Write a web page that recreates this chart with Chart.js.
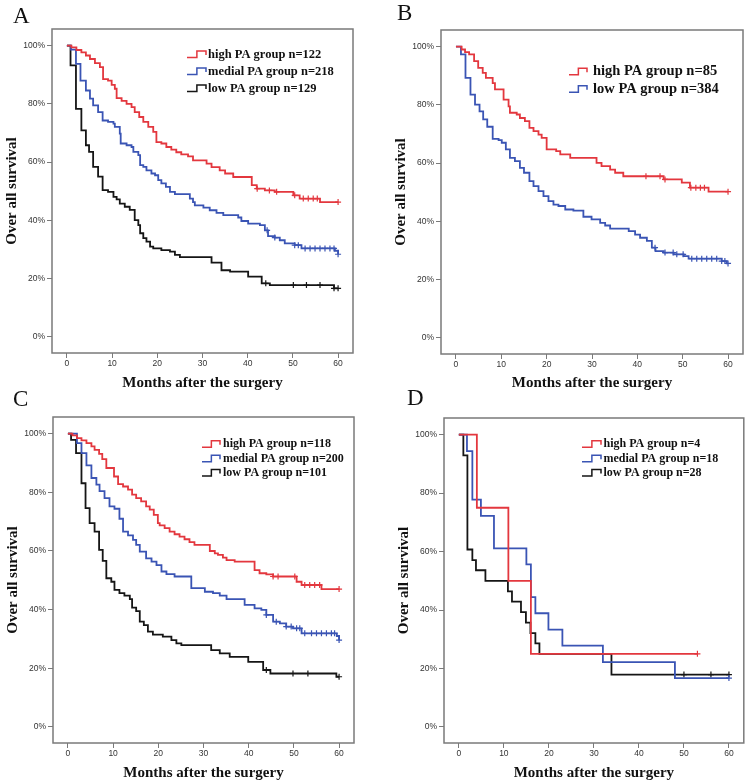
<!DOCTYPE html>
<html>
<head>
<meta charset="utf-8">
<script src="https://cdn.jsdelivr.net/npm/chart.js@4.4.0/dist/chart.umd.min.js"></script>
<style>
  body { margin: 0; background: #fff; overflow: hidden; }
  #page { position: relative; width: 749px; height: 784px; background: #fff; overflow: hidden; }
  canvas { position: absolute; }
  .tag { position: absolute; font-family: "Liberation Serif", "Times New Roman", serif; font-size: 23px; line-height: 23px; color: #111; }
</style>
</head>
<body>
<div id="page">
  <canvas id="chartA" width="375" height="392" style="left:0;top:0"></canvas>
  <canvas id="chartB" width="374" height="392" style="left:375px;top:0"></canvas>
  <canvas id="chartC" width="375" height="392" style="left:0;top:392px"></canvas>
  <canvas id="chartD" width="374" height="392" style="left:375px;top:392px"></canvas>
  <div class="tag" style="left:13px;top:4px">A</div>
  <div class="tag" style="left:397px;top:1px">B</div>
  <div class="tag" style="left:13px;top:387px">C</div>
  <div class="tag" style="left:407px;top:386px">D</div>
</div>
<script>
// axis ticks
const xTicks = [0, 10, 20, 30, 40, 50, 60];
const yTicks = [0, 20, 40, 60, 80, 100];

// A
const aLabels = ['high PA group n=122', 'medial PA group n=218', 'low PA group n=129'];
const aHighT = [0, 1.0, 2.1, 3.2, 4.2, 5.1, 6.2, 7.3, 8.0, 9.1, 9.9, 10.6, 11.0, 12.1, 13.2, 14.3, 15.0, 16.0, 16.9, 18.0, 19.1, 19.8, 20.9, 22.0, 23.1, 24.2, 25.3, 26.8, 27.9, 30.9, 32.0, 33.8, 35.0, 36.8, 40.9, 42.0, 43.8, 46.0, 50.1, 51.5, 56.0, 60];
const aHighS = [100, 99.4, 98.5, 97.7, 96.6, 95.4, 94.0, 92.6, 88.5, 88.0, 86.5, 85.2, 82.0, 81.0, 80.0, 78.9, 77.2, 75.5, 73.8, 72.1, 70.4, 66.9, 66.4, 65.2, 64.3, 63.4, 62.7, 62.0, 60.6, 59.5, 58.3, 57.2, 56.1, 54.9, 52.1, 50.9, 50.3, 49.8, 48.6, 47.5, 46.3, 46.3];
const aHighC = [42.1, 44.8, 46.4, 50.4, 52.3, 53.4, 54.5, 55.4, 60];
const aMedT = [0, 0.9, 2.0, 3.0, 4.2, 5.1, 5.8, 6.9, 7.9, 9.1, 10.3, 10.6, 11.7, 11.9, 13.2, 14.3, 14.7, 15.8, 16.2, 16.9, 17.6, 18.7, 19.5, 20.2, 20.9, 21.9, 22.8, 23.9, 27.2, 27.9, 28.3, 30.2, 31.6, 33.1, 34.6, 37.9, 38.6, 40.1, 42.7, 43.8, 44.5, 46.0, 47.1, 48.2, 50.4, 51.9, 59.3, 60];
const aMedS = [100, 98.6, 93.7, 88.0, 84.6, 81.8, 79.5, 77.2, 74.3, 73.8, 73.2, 72.1, 69.8, 66.4, 65.8, 65.2, 63.5, 62.4, 59.0, 58.4, 57.2, 56.1, 55.5, 53.8, 52.7, 51.5, 49.8, 49.0, 47.5, 46.3, 45.2, 44.4, 43.5, 42.6, 41.8, 41.0, 39.8, 38.9, 38.4, 36.6, 34.6, 34.1, 33.2, 32.1, 31.5, 30.4, 29.6, 28.4];
const aMedC = [44.3, 46.0, 50.4, 51.2, 52.7, 53.8, 54.9, 56.0, 57.1, 58.2, 59.1, 60];
const aLowT = [0, 0.8, 2.0, 3.2, 4.2, 4.9, 5.8, 6.9, 7.9, 9.1, 10.3, 11.0, 11.7, 12.8, 13.9, 15.0, 15.8, 16.2, 16.9, 17.6, 18.4, 19.1, 20.9, 22.8, 23.9, 25.0, 32.0, 34.2, 36.1, 40.1, 43.1, 44.9, 59.1, 60];
const aLowS = [100, 93.2, 78.3, 70.9, 65.8, 63.5, 58.4, 55.0, 50.4, 49.8, 48.1, 47.2, 45.8, 44.7, 43.6, 40.1, 38.4, 35.6, 33.9, 32.7, 31.0, 30.4, 29.8, 29.3, 28.2, 27.4, 25.5, 22.9, 22.4, 20.7, 18.4, 17.8, 16.7, 16.7];
const aLowC = [44.0, 50.1, 53.0, 56.0, 59.1, 60];

// B
const bLabels = ['high PA group n=85', 'low PA group n=384'];
const bHighT = [0, 1.25, 2.0, 2.9, 4.0, 4.9, 5.9, 6.6, 8.1, 8.6, 10.5, 11.6, 11.9, 13.4, 14.1, 15.2, 16.2, 17.1, 18.2, 18.9, 20.0, 22.1, 23.0, 25.2, 31.0, 32.1, 34.0, 35.1, 36.9, 45.8, 49.8, 51.6, 55.7, 60];
const bHighS = [100, 99.0, 98.1, 97.3, 95.0, 92.7, 91.0, 89.3, 87.5, 85.3, 81.8, 79.5, 77.3, 76.7, 75.5, 74.4, 72.1, 71.0, 69.8, 68.7, 64.7, 64.1, 63.0, 61.8, 60.1, 59.0, 57.8, 56.7, 55.5, 54.4, 53.3, 51.6, 50.2, 50.2];
const bHighC = [41.9, 45.0, 46.1, 51.8, 52.9, 53.9, 54.8, 60];
const bLowT = [0, 1.1, 2.1, 3.2, 4.2, 5.2, 6.0, 6.9, 8.1, 9.4, 10.1, 11.0, 11.9, 13.0, 14.1, 15.0, 16.2, 17.1, 18.2, 19.3, 20.4, 21.5, 22.6, 24.1, 25.9, 28.1, 29.9, 31.8, 32.9, 34.0, 38.1, 39.5, 40.6, 42.1, 43.2, 44.0, 45.8, 48.0, 50.2, 51.3, 58.6, 59.7, 60];
const bLowS = [100, 97.3, 89.3, 83.5, 80.1, 77.8, 75.0, 72.5, 68.3, 67.9, 67.0, 64.7, 61.8, 60.7, 58.4, 56.7, 53.8, 52.1, 50.4, 48.7, 47.0, 45.8, 45.3, 44.1, 43.7, 41.6, 40.7, 39.5, 38.6, 37.5, 36.7, 35.5, 34.4, 33.3, 31.0, 29.8, 29.3, 28.7, 28.1, 27.2, 26.4, 25.6, 25.6];
const bLowC = [43.9, 46.1, 47.9, 48.7, 50.1, 52.0, 53.1, 54.2, 55.3, 56.4, 57.5, 58.6, 59.3, 60];

// C
const cLabels = ['high PA group n=118', 'medial PA group n=200', 'low PA group n=101'];
const cHighT = [0, 1.0, 2.0, 3.0, 4.1, 5.2, 5.9, 6.9, 7.6, 8.5, 10.2, 11.1, 12.2, 13.3, 14.2, 15.1, 16.2, 17.3, 18.1, 19.0, 19.9, 20.3, 21.4, 22.5, 23.6, 24.7, 25.8, 26.9, 28.0, 31.4, 32.5, 33.2, 34.3, 35.1, 36.9, 41.3, 42.4, 43.9, 45.4, 50.6, 51.7, 56.1, 60];
const cHighS = [100, 99.4, 98.5, 97.7, 96.8, 95.7, 94.5, 93.1, 91.3, 88.3, 85.4, 82.8, 82.0, 80.9, 79.2, 78.0, 76.9, 75.2, 74.1, 72.3, 69.5, 68.7, 67.8, 66.6, 65.7, 64.9, 64.0, 63.0, 62.1, 60.0, 59.2, 58.7, 57.7, 56.9, 56.4, 53.5, 52.4, 52.0, 51.3, 49.5, 48.4, 47.0, 47.0];
const cHighC = [45.4, 46.5, 50.2, 52.4, 53.5, 54.6, 55.7, 60];
const cMedT = [0, 2.0, 3.0, 4.1, 5.2, 6.3, 7.0, 8.1, 9.2, 10.3, 11.4, 12.2, 13.3, 14.4, 15.1, 15.9, 17.3, 18.5, 19.6, 20.7, 21.8, 23.6, 27.3, 30.3, 32.1, 33.6, 35.1, 39.1, 41.3, 42.8, 43.9, 45.4, 46.9, 48.3, 49.8, 51.7, 59.5, 60];
const cMedS = [100, 96.8, 93.4, 89.2, 84.9, 82.6, 80.4, 78.0, 75.2, 74.4, 71.0, 66.6, 65.3, 63.8, 62.1, 59.8, 57.5, 56.4, 55.2, 53.0, 52.1, 51.3, 47.3, 46.1, 45.6, 44.8, 43.6, 41.6, 40.4, 39.9, 38.2, 35.9, 35.3, 34.2, 33.6, 31.9, 31.0, 29.6];
const cMedC = [43.9, 46.1, 48.3, 49.4, 50.6, 51.3, 52.4, 53.9, 55.0, 56.1, 57.2, 58.3, 59.0, 60];
const cLowT = [0, 0.7, 1.8, 3.0, 3.9, 4.8, 5.9, 6.9, 7.7, 8.5, 9.6, 10.3, 11.4, 12.5, 13.7, 14.2, 15.1, 15.9, 16.8, 17.7, 18.8, 21.0, 22.9, 24.0, 25.1, 31.7, 33.6, 35.8, 39.9, 43.2, 44.8, 59.4, 60];
const cLowS = [100, 97.9, 93.4, 83.1, 74.6, 69.5, 66.6, 60.4, 56.6, 50.7, 49.5, 46.7, 45.6, 44.8, 43.6, 40.7, 39.5, 35.9, 34.7, 32.5, 31.5, 30.8, 29.6, 28.5, 27.9, 26.2, 25.1, 23.9, 22.2, 19.4, 18.2, 17.1, 17.1];
const cLowC = [43.9, 49.8, 53.1, 60];

// D
const dLabels = ['high PA group n=4', 'medial PA group n=18', 'low PA group n=28'];
const dHighT = [0, 4, 11, 16, 53];
const dHighS = [100, 75, 50, 25, 25];
const dHighC = [53];
const dMedT = [0, 1.8, 3.0, 4.9, 7.8, 15.0, 16.0, 17.0, 19.9, 23.0, 32.0, 48.0, 60];
const dMedS = [100, 94.4, 77.8, 72.2, 61.1, 55.6, 44.4, 38.9, 33.3, 27.8, 22.2, 16.7, 16.7];
const dMedC = [60];
const dLowT = [0, 1.0, 1.9, 3.0, 3.8, 5.9, 10.9, 11.8, 13.8, 14.9, 15.9, 17.0, 17.9, 33.9, 60];
const dLowS = [100, 92.9, 60.7, 57.1, 53.6, 50.0, 46.4, 42.9, 39.3, 35.7, 32.1, 28.6, 25.0, 17.9, 17.9];
const dLowC = [50, 56, 60];

const RED = '#e3373e';
const BLUE = '#3a54b4';
const BLACK = '#151515';
const GREY = '#7a7a7a';
const SERIF = '"Liberation Serif", "Times New Roman", serif';
const SANS = '"Liberation Sans", Arial, sans-serif';

// survival value of a step curve at time t (used to place the censor marks on the line)
function stepAt(times, surv, t) {
  let v = surv[0];
  for (let i = 0; i < times.length; i++) {
    if (times[i] <= t + 1e-9) v = surv[i];
  }
  return v;
}

function curve(label, times, surv, cens, color) {
  return [
    {
      label: label,
      data: times.map((t, i) => ({ x: t, y: surv[i] })),
      showLine: true,
      stepped: 'before',
      borderColor: color,
      borderWidth: 1.8,
      pointRadius: 0,
      fill: false
    },
    {
      label: label + ' (censored)',
      isCensor: true,
      data: cens.map(t => ({ x: t, y: stepAt(times, surv, t) })),
      showLine: false,
      pointStyle: 'cross',
      pointRadius: 3,
      borderColor: color,
      borderWidth: 1.2
    }
  ];
}

// grey box round the plot area
const frame = {
  id: 'frame',
  afterDatasetsDraw(chart) {
    const { ctx, chartArea: a } = chart;
    ctx.save();
    ctx.strokeStyle = GREY;
    ctx.lineWidth = 1.5;
    ctx.strokeRect(a.left, a.top, a.right - a.left, a.bottom - a.top);
    ctx.restore();
  }
};

// SPSS style legend with a little step icon
const kmLegend = {
  id: 'kmLegend',
  afterDraw(chart, args, opts) {
    const { ctx } = chart;
    const lines = chart.data.datasets.filter(d => !d.isCensor);
    ctx.save();
    ctx.font = 'bold ' + opts.size + 'px ' + SERIF;
    ctx.textBaseline = 'middle';
    lines.forEach((d, i) => {
      const x = opts.x;
      const y = opts.y + i * opts.dy;
      const w = opts.w;
      ctx.strokeStyle = d.borderColor;
      ctx.lineWidth = 1.5;
      ctx.beginPath();
      ctx.moveTo(x, y + 3);
      ctx.lineTo(x + w * 0.52, y + 3);
      ctx.lineTo(x + w * 0.52, y - 3.5);
      ctx.lineTo(x + w, y - 3.5);
      ctx.lineTo(x + w, y + 0.5);
      ctx.stroke();
      ctx.fillStyle = '#111';
      ctx.fillText(d.label, x + opts.gap, y);
    });
    ctx.restore();
  }
};

function makePanel(id, datasets, box, legend) {
  new Chart(document.getElementById(id), {
    type: 'scatter',
    data: { datasets: datasets },
    options: {
      responsive: false,
      animation: false,
      layout: { padding: { left: 0, top: box.top, right: box.right, bottom: 0 } },
      plugins: {
        legend: { display: false },
        tooltip: { enabled: false },
        kmLegend: legend
      },
      scales: {
        x: {
          type: 'linear',
          min: -3.3,
          max: 63.3,
          afterFit: s => { s.height = box.xh; },
          afterBuildTicks: s => { s.ticks = xTicks.map(v => ({ value: v })); },
          grid: { display: true, drawOnChartArea: false, drawTicks: true, tickLength: 5, color: GREY, tickColor: GREY },
          border: { display: false },
          ticks: { color: '#333', padding: 1, maxRotation: 0, font: { family: SANS, size: 8.5 } },
          title: {
            display: true,
            text: 'Months after the surgery',
            color: '#111',
            font: { family: SERIF, size: 15, weight: 'bold' },
            padding: { top: 0, bottom: box.xtp }
          }
        },
        y: {
          type: 'linear',
          min: -5.5,
          max: 105.7,
          afterFit: s => { s.width = box.yw; },
          afterBuildTicks: s => { s.ticks = yTicks.map(v => ({ value: v })); },
          grid: { display: true, drawOnChartArea: false, drawTicks: true, tickLength: 5, color: GREY, tickColor: GREY },
          border: { display: false },
          ticks: { color: '#333', padding: 2, font: { family: SANS, size: 8.5 }, callback: v => v + '%' },
          title: {
            display: true,
            text: 'Over all survival',
            color: '#111',
            font: { family: SERIF, size: 15, weight: 'bold' },
            padding: { top: box.ytp, bottom: 0 }
          }
        }
      }
    },
    plugins: [frame, kmLegend]
  });
}

makePanel('chartA',
  [].concat(
    curve(aLabels[0], aHighT, aHighS, aHighC, RED),
    curve(aLabels[1], aMedT, aMedS, aMedC, BLUE),
    curve(aLabels[2], aLowT, aLowS, aLowC, BLACK)),
  { top: 29, right: 22, yw: 52, xh: 39, ytp: 3, xtp: 0 },
  { x: 187, y: 54.5, dy: 17, size: 12.5, w: 19, gap: 21 });

makePanel('chartB',
  [].concat(
    curve(bLabels[0], bHighT, bHighS, bHighC, RED),
    curve(bLabels[1], bLowT, bLowS, bLowC, BLUE)),
  { top: 30, right: 6, yw: 66, xh: 38, ytp: 17, xtp: 0 },
  { x: 194, y: 71.7, dy: 17.6, size: 14.5, w: 18, gap: 24 });

makePanel('chartC',
  [].concat(
    curve(cLabels[0], cHighT, cHighS, cHighC, RED),
    curve(cLabels[1], cMedT, cMedS, cMedC, BLUE),
    curve(cLabels[2], cLowT, cLowS, cLowC, BLACK)),
  { top: 25, right: 21, yw: 53, xh: 41, ytp: 4, xtp: 2 },
  { x: 202, y: 52.3, dy: 14.4, size: 12, w: 18, gap: 21 });

makePanel('chartD',
  [].concat(
    curve(dLabels[0], dHighT, dHighS, dHighC, RED),
    curve(dLabels[1], dMedT, dMedS, dMedC, BLUE),
    curve(dLabels[2], dLowT, dLowS, dLowC, BLACK)),
  { top: 26, right: 3, yw: 69, xh: 41, ytp: 20, xtp: 2 },
  { x: 207, y: 52.3, dy: 14.4, size: 12, w: 19, gap: 21.5 });
</script>
</body>
</html>
